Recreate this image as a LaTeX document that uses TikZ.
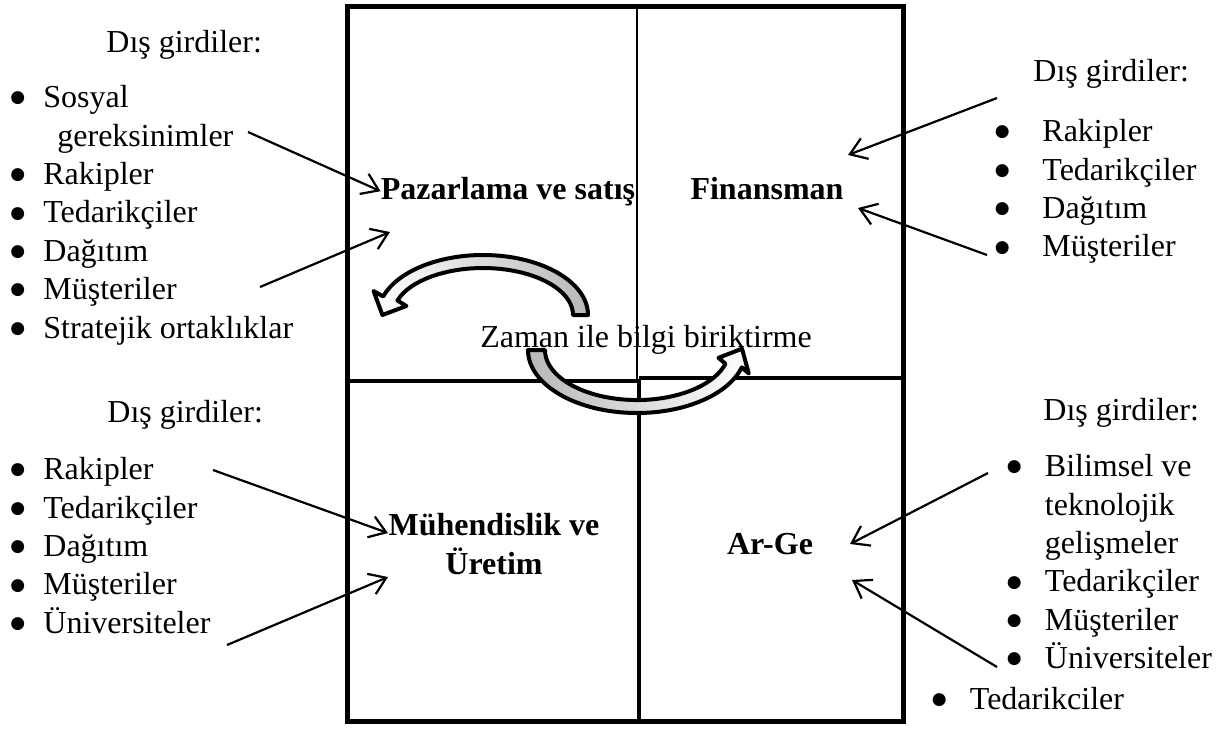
\documentclass[tikz,border=0pt]{standalone}
\usepackage{fontspec}
\setmainfont{Liberation Serif}
\newfontfamily\dotfont{DejaVu Sans}
\usetikzlibrary{arrows.meta,positioning,calc}
\definecolor{ink}  {HTML}{000000}
\definecolor{shade}{HTML}{B8B8B8}
\newcommand\blt[1][16.5pt]{\makebox[#1][l]{\raisebox{2.4pt}{\dotfont\fontsize{8.5}{9}\selectfont ●}}}
\tikzset{
  inputlist/.style={
    font=\fontsize{16}{19.2}\selectfont, text=ink,
    align=left, inner sep=0pt, anchor=north west
  },
  inputhead/.style={
    font=\fontsize{16}{19.2}\selectfont, text=ink,
    inner sep=0pt, anchor=base west
  },
  dept/.style={
    font=\fontsize{16}{19.2}\selectfont\bfseries, text=ink,
    align=center, inner sep=0pt
  },
  inarrow/.style={
    -{Straight Barb[length=8pt, width=11pt]}, line width=1.1pt, draw=ink
  },
  boxframe/.style={line width=2.5pt, draw=ink},
  divider/.style={line width=1.8pt, draw=ink},
  cyclearrow/.style={line width=2pt, draw=ink, line join=round}
}

\begin{document}
\begin{tikzpicture}[x=0.5pt, y=-0.5pt]
  \useasboundingbox (0,0) rectangle (1229,729);

  % four fields
  \draw[boxframe] (347,6) rectangle (903,721);
  \draw[line width=1.4pt] (637,6) -- (637,380);
  \draw[divider] (347,381) -- (639,381);
  \draw[divider] (639,378) -- (903,378);
  \draw[divider] (639,380) -- (639,721);

  % field titles
  \node[dept, anchor=base]  (pz)    at (508,199) {Pazarlama ve satış};
  \node[dept, anchor=base]  (fin)   at (767,199) {Finansman};
  \node[dept, anchor=north] (muh)   at (494,513) {Mühendislik ve\\Üretim};
  \node[dept, anchor=base]  (arge)  at (770,554) {Ar-Ge};
  \node[inputhead, anchor=base] (zaman) at (646,347) {Zaman ile bilgi biriktirme};

  % outside inputs
  \node[inputhead] (tlhead) at (106,52) {Dış girdiler:};
  \node[inputlist] (tllist) at (10,85)
    {\blt Sosyal\\\hspace*{23.5pt}gereksinimler\\\blt Rakipler\\\blt Tedarikçiler\\
     \blt Dağıtım\\\blt Müşteriler\\\blt Stratejik ortaklıklar};

  \node[inputhead] (trhead) at (1033,81) {Dış girdiler:};
  \node[inputlist] (trlist) at (994.5,119)
    {\blt[23.75pt]Rakipler\\\blt[23.75pt]Tedarikçiler\\\blt[23.75pt]Dağıtım\\\blt[23.75pt]Müşteriler};

  \node[inputhead] (blhead) at (107,422) {Dış girdiler:};
  \node[inputlist] (bllist) at (10,457)
    {\blt Rakipler\\\blt Tedarikçiler\\\blt Dağıtım\\\blt Müşteriler\\\blt Üniversiteler};

  \node[inputhead] (brhead) at (1043,420) {Dış girdiler:};
  \node[inputlist] (brlist) at (1006.5,454)
    {\blt[19pt]Bilimsel ve\\\hspace*{19pt}teknolojik\\\hspace*{19pt}gelişmeler\\
     \blt[19pt]Tedarikçiler\\\blt[19pt]Müşteriler\\\blt[19pt]Üniversiteler};
  \node[inputhead] (brextra) at (931.5,709) {\blt[19pt]Tedarikciler};

  % arrow ends
  \coordinate (a1) at (248,132);
  \coordinate (a2) at (260,287);  \coordinate (a2e) at (390,232);
  \coordinate (a3) at (997,98);   \coordinate (a3e) at (848,155);
  \coordinate (a4) at (987,255);  \coordinate (a4e) at (858,208);
  \coordinate (a5) at (213,470);  \coordinate (a5e) at (388,533);
  \coordinate (a6) at (227,645);  \coordinate (a6e) at (388,577);
  \coordinate (a7) at (988,473);  \coordinate (a7e) at (850,544);
  \coordinate (a8) at (997,667);  \coordinate (a8e) at (852,580);

  % knowledge cycle
  \shadedraw[cyclearrow, left color=white, right color=shade]
    (588,315) arc[start angle=0, end angle=-162, x radius=105, y radius=60]
    -- (373.6,291) -- (382.4,315) -- (406.4,306)
    -- (397.4,300.5) arc[start angle=-162, end angle=0, x radius=90, y radius=47] -- cycle;
  \shadedraw[cyclearrow, left color=shade, right color=white]
    (528,350) arc[start angle=180, end angle=16, x radius=109, y radius=63]
    -- (748.7,373.4) -- (742,348.7) -- (718.5,357.8)
    -- (725.4,363.8) arc[start angle=16, end angle=180, x radius=92, y radius=50] -- cycle;

  \draw[inarrow] (a1) -- (pz.west);
  \draw[inarrow] (a2) -- (a2e);
  \draw[inarrow] (a3) -- (a3e);
  \draw[inarrow] (a4) -- (a4e);
  \draw[inarrow] (a5) -- (a5e);
  \draw[inarrow] (a6) -- (a6e);
  \draw[inarrow] (a7) -- (a7e);
  \draw[inarrow] (a8) -- (a8e);
\end{tikzpicture}
\end{document}
